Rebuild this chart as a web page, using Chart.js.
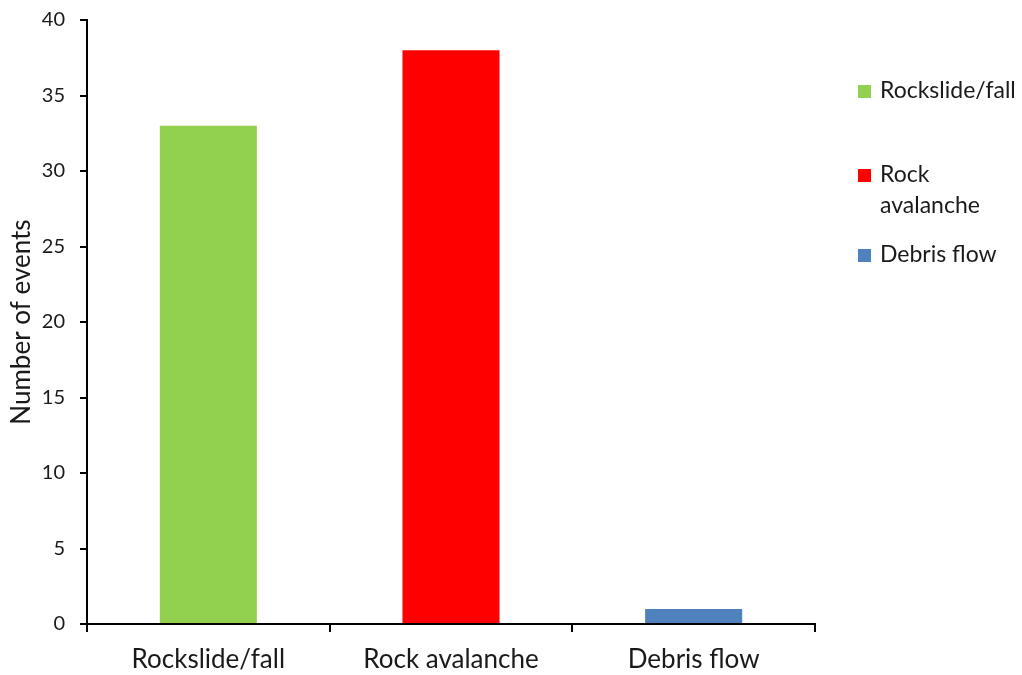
<!DOCTYPE html>
<html>
<head>
<meta charset="utf-8">
<script src="https://cdn.jsdelivr.net/npm/chart.js@4/dist/chart.umd.min.js"></script>
<style>
  html, body { margin: 0; padding: 0; background: #fff; }
  #wrap { width: 1022px; height: 675px; position: relative; }
</style>
</head>
<body>
<div id="wrap"><canvas id="c" width="1022" height="675"></canvas></div>
<script>
// Event counts by landslide type
const categories = ['Rockslide/fall', 'Rock avalanche', 'Debris flow'];
const legendLines = [['Rockslide/fall'], ['Rock', 'avalanche'], ['Debris flow']];
const eventCounts = [33, 38, 1];
const barColors = ['#92D050', '#FF0000', '#4F81BD'];
const yTicks = [0, 5, 10, 15, 20, 25, 30, 35, 40];

const FONT = 'Lato, "Open Sans", sans-serif';
const TEXT = '#1a1a1a';

// Legend drawn beside the plot so long labels can wrap onto two lines
const sideLegend = {
  id: 'sideLegend',
  afterDraw(chart) {
    const ctx = chart.ctx;
    const x0 = chart.chartArea.right + 43;
    const rows = [91, 175, 255];
    ctx.save();
    ctx.font = '23px ' + FONT;
    ctx.textBaseline = 'middle';
    legendLines.forEach((lines, i) => {
      ctx.fillStyle = barColors[i];
      ctx.fillRect(x0, rows[i] - 6, 13, 13);
      ctx.fillStyle = TEXT;
      lines.forEach((t, j) => ctx.fillText(t, x0 + 22, rows[i] + j * 31));
    });
    ctx.restore();
  }
};

new Chart(document.getElementById('c'), {
  type: 'bar',
  data: {
    labels: categories,
    datasets: [{
      data: eventCounts,
      backgroundColor: barColors,
      borderWidth: 0,
      categoryPercentage: 0.8,
      barPercentage: 0.5
    }]
  },
  options: {
    responsive: false,
    animation: false,
    layout: { padding: { top: 20, right: 207, left: 0, bottom: 0 } },
    plugins: { legend: { display: false }, tooltip: { enabled: false } },
    scales: {
      x: {
        grid: { offset: true, drawOnChartArea: false, drawTicks: true, tickLength: 8, color: '#000', lineWidth: 2 },
        border: { color: '#000', width: 2 },
        ticks: { color: TEXT, font: { family: FONT, size: 26 }, padding: 12 },
        afterFit(s) { s.height = 51; s.paddingLeft = 0; s.paddingRight = 0; }
      },
      y: {
        min: 0, max: 40,
        afterBuildTicks(s) { s.ticks = yTicks.map(v => ({ value: v })); },
        grid: { drawOnChartArea: false, drawTicks: true, tickLength: 7, color: '#000', lineWidth: 2 },
        border: { color: '#000', width: 2 },
        ticks: { color: TEXT, font: { family: FONT, size: 20 }, padding: 15 },
        title: { display: true, text: 'Number of events', color: TEXT, font: { family: FONT, size: 26 }, padding: { top: 6, bottom: 4 } },
        afterFit(s) { s.width = 87; s.paddingTop = 0; s.paddingBottom = 0; }
      }
    }
  },
  plugins: [sideLegend]
});
</script>
</body>
</html>
